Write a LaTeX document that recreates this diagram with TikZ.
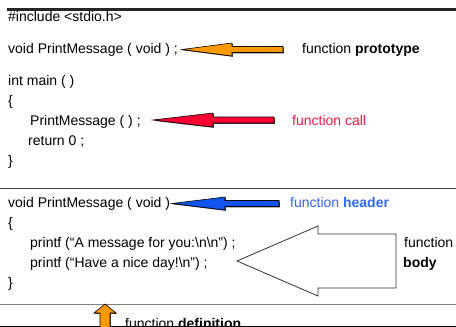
\documentclass[tikz,border=0pt]{standalone}
\usepackage{fontspec}
\setmainfont{Liberation Sans}
\definecolor{arrorange}{HTML}{FF9900}
\definecolor{arrred}{HTML}{FF0033}
\definecolor{txtred}{HTML}{FF1744}
\definecolor{arrblue}{HTML}{1155EE}
\definecolor{txtblue}{HTML}{3366FF}
\begin{document}
\begin{tikzpicture}[x=1pt,y=-1pt,
  code/.style={anchor=base west, inner sep=0pt, font=\fontsize{14}{16}\selectfont},
  blockarrow/.style={draw=black, line width=0.6pt, line join=miter},
  arrshadow/.style={fill=black!75}]
\useasboundingbox (0,0) rectangle (456,327);
\clip (0,0) rectangle (456,327);
% rules
\draw[line width=2.4pt, black!85] (7,9.5) -- (456,9.5);
\draw[line width=1pt, black!75] (0,188) -- (456,188);
\draw[line width=1pt, black!50] (0,304) -- (456,304);
\draw[line width=1.6pt, black] (0,326.5) -- (456,326.5);
% code text
\node[code] (inc) at (8,21) {\#include <stdio.h>};
\node[code] (proto) at (8,53) {void PrintMessage ( void ) ;};
\node[code] (main) at (8,85) {int main ( )};
\node[code] (ob1) at (8,105) {\{};
\node[code] (call) at (30,125) {PrintMessage ( ) ;};
\node[code] (ret) at (28,145) {return 0 ;};
\node[code] (cb1) at (8,165) {\}};
\node[code] (hdr) at (8,207) {void PrintMessage ( void )};
\node[code] (ob2) at (8,227) {\{};
\node[code] (pf1) at (30,247) {printf (“A message for you:\textbackslash n\textbackslash n”) ;};
\node[code] (pf2) at (30,267) {printf (“Have a nice day!\textbackslash n”) ;};
\node[code] (cb2) at (8,287) {\}};
% labels
\node[code] (lproto) at (302,53) {function \textbf{prototype}};
\node[code, text=txtred] (lcall) at (292,125) {function call};
\node[code, text=txtblue] (lhdr) at (290,207) {function \textbf{header}};
\node[code] (lbody1) at (404,247) {function};
\node[code] (lbody2) at (403,267) {\textbf{body}};
\node[code] (ldef) at (125,328) {function \textbf{definition}};
% orange prototype arrow
\fill[arrshadow, shift={(0.8,0.8)}] (182,49.5) -- (232,43) -- (232,46.5) -- (283,46.5) -- (283,52.5) -- (232,52.5) -- (232,56) -- cycle;
\filldraw[blockarrow, fill=arrorange] (182,49.5) -- (232,43) -- (232,46.5) -- (283,46.5) -- (283,52.5) -- (232,52.5) -- (232,56) -- cycle;
% red call arrow
\fill[arrshadow, shift={(0.8,0.8)}] (153,120) -- (213,113) -- (213,117) -- (274,117) -- (274,123) -- (213,123) -- (213,127) -- cycle;
\filldraw[blockarrow, fill=arrred] (153,120) -- (213,113) -- (213,117) -- (274,117) -- (274,123) -- (213,123) -- (213,127) -- cycle;
% blue header arrow
\fill[arrshadow, shift={(0.8,0.8)}] (172,203.5) -- (225,197) -- (225,200.5) -- (279,200.5) -- (279,206.5) -- (225,206.5) -- (225,210) -- cycle;
\filldraw[blockarrow, fill=arrblue] (172,203.5) -- (225,197) -- (225,200.5) -- (279,200.5) -- (279,206.5) -- (225,206.5) -- (225,210) -- cycle;
% white body arrow
\filldraw[draw=black!80, line width=0.8pt, fill=white, line join=miter] (237,261) -- (318,226) -- (318,234) -- (396,234) -- (396,288) -- (318,288) -- (318,296) -- cycle;
% orange definition arrow (up)
\fill[arrshadow, shift={(0.8,0.8)}] (105,304) -- (116,313) -- (110,313) -- (110,332) -- (100,332) -- (100,313) -- (94,313) -- cycle;
\filldraw[blockarrow, fill=arrorange] (105,304) -- (116,313) -- (110,313) -- (110,332) -- (100,332) -- (100,313) -- (94,313) -- cycle;
\end{tikzpicture}
\end{document}
